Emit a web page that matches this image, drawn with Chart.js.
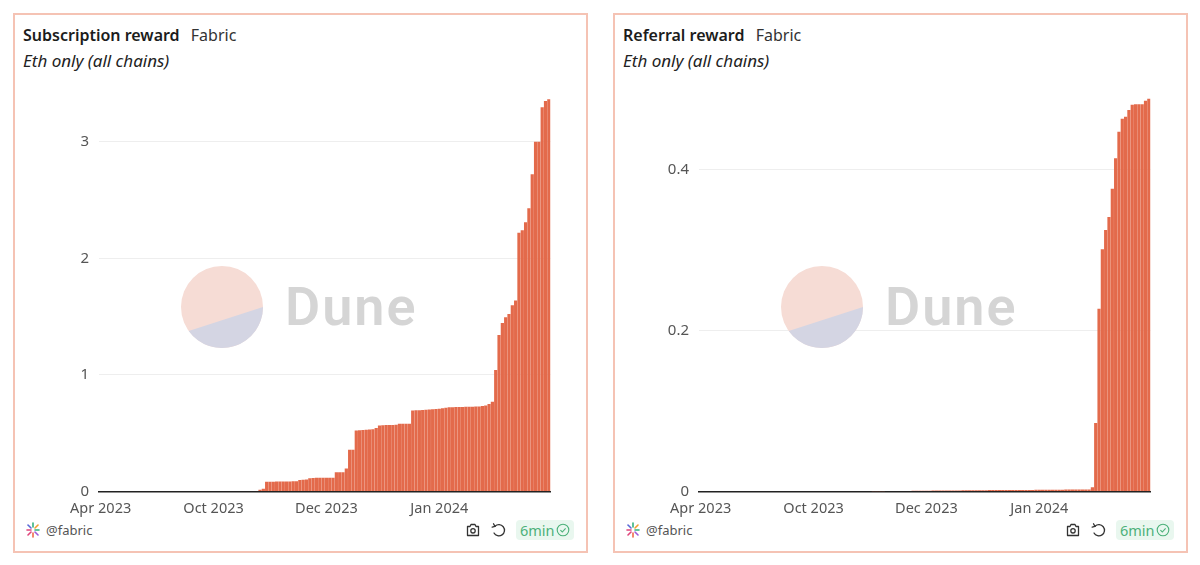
<!DOCTYPE html>
<html>
<head>
<meta charset="utf-8">
<title>Fabric rewards</title>
<script src="https://cdn.jsdelivr.net/npm/chart.js@4"></script>
<style>
  html, body { margin: 0; padding: 0; background: #fff; width: 1200px; height: 565px; overflow: hidden; }
  body { font-family: "Noto Sans", sans-serif; color: #1c1c1c; position: relative; }
  .card { position: absolute; top: 13px; width: 571px; height: 536px; border: 2px solid #f5c3b4; box-sizing: content-box; }
  #card1 { left: 13px; }
  #card2 { left: 613px; }
  .title { position: absolute; left: 8px; top: 9px; font-size: 16px; line-height: 22px; white-space: nowrap; }
  .title b { font-weight: 600; margin-right: 7px; }
  .title span { color: #333; }
  .subtitle { position: absolute; left: 8px; top: 35px; font-size: 17px; line-height: 22px; font-style: italic; color: #222; }
  .plot { position: absolute; left: -1px; top: 53px; width: 573px; height: 452px; }
  .mark { position: absolute; left: 165px; top: 250px; width: 84px; height: 84px; }
  .markText { position: absolute; left: 270px; top: 254px; font-size: 54px; line-height: 76px; font-weight: 600; color: #d5d5d5; font-family: Roboto, sans-serif; letter-spacing: 2px; }
  .owner { position: absolute; left: 31px; top: 505px; font-size: 13px; line-height: 20px; color: #555; }
  .logo { position: absolute; left: 11px; top: 507px; width: 14px; height: 16px; }
  .cam { position: absolute; left: 450px; top: 507px; width: 16px; height: 16px; }
  .undo { position: absolute; left: 475px; top: 507px; width: 18px; height: 16px; }
  .badge { position: absolute; left: 501px; top: 505px; width: 58px; height: 20px; background: #e9f7ef; border-radius: 4px; color: #4cb17a; font-size: 14.5px; line-height: 20px; }
  .badge span { position: absolute; left: 4px; top: 0; }
  .badge svg { position: absolute; left: 40px; top: 3px; width: 14px; height: 14px; }
</style>
</head>
<body>
<div class="card" id="card1"></div>
<div class="card" id="card2"></div>

<script>
// values, one per bar
var subscriptionReward = [
  0, 0, 0, 0, 0, 0, 0, 0, 0, 0, 0, 0, 0, 0, 0, 0, 0, 0, 0, 0,
  0, 0, 0, 0, 0, 0, 0, 0, 0, 0, 0, 0, 0, 0, 0, 0, 0, 0, 0, 0,
  0, 0, 0, 0, 0, 0, 0, 0,
  0.014, 0.023,
  0.083, 0.084, 0.084, 0.085, 0.085, 0.086, 0.086, 0.086, 0.087, 0.088,
  0.099, 0.1, 0.102,
  0.113, 0.116, 0.117, 0.117, 0.117, 0.117, 0.118, 0.118,
  0.166, 0.166, 0.166,
  0.197,
  0.357, 0.357,
  0.523, 0.525, 0.527, 0.529, 0.531, 0.534,
  0.545,
  0.566, 0.568, 0.57, 0.57, 0.571, 0.572,
  0.58, 0.58, 0.58, 0.581,
  0.694, 0.696, 0.697, 0.699, 0.701, 0.703, 0.705, 0.707, 0.71, 0.714, 0.719,
  0.722, 0.723, 0.724, 0.724, 0.725, 0.726, 0.727, 0.727, 0.728, 0.73, 0.734, 0.738, 0.751,
  0.769, 1.043, 1.343, 1.446, 1.494, 1.523, 1.597, 1.637,
  2.22, 2.24, 2.31, 2.43, 2.72, 3.0, 3.0, 3.295, 3.35, 3.365
];

var referralReward = [
  0, 0, 0, 0, 0, 0, 0, 0, 0, 0, 0, 0, 0, 0, 0, 0, 0, 0, 0, 0,
  0, 0, 0, 0, 0, 0, 0, 0, 0, 0, 0, 0, 0, 0, 0, 0, 0, 0, 0, 0,
  0, 0, 0, 0, 0, 0, 0, 0, 0, 0, 0, 0,
  0.0003, 0.0003, 0.0004, 0.0004, 0.0005, 0.0005, 0.0005, 0.0006, 0.0006, 0.0006,
  0.0007, 0.0007, 0.0008, 0.0009, 0.001, 0.001, 0.001, 0.001, 0.0011, 0.0011,
  0.0011, 0.0012, 0.0012, 0.0012, 0.0013, 0.0013, 0.0013, 0.0014, 0.0014, 0.0015,
  0.0016, 0.0016, 0.0017, 0.0017, 0.0017, 0.0018, 0.0018, 0.0018, 0.0019, 0.0019,
  0.0019, 0.0019, 0.002, 0.002, 0.002, 0.002, 0.002, 0.002, 0.002, 0.0021,
  0.0021, 0.0021, 0.0021, 0.0022, 0.0022, 0.0022, 0.0023, 0.0023, 0.0024, 0.0024,
  0.0024, 0.0025, 0.0025, 0.0025, 0.0025, 0.0025,
  0.0054, 0.085, 0.227, 0.301, 0.325, 0.341, 0.376, 0.414, 0.447, 0.463,
  0.4656, 0.474, 0.4805, 0.481, 0.481, 0.481, 0.4855, 0.488
];

var xTickLabels = ['Apr 2023', 'Oct 2023', 'Dec 2023', 'Jan 2024'];
var xTickEvery = 34;
var subscriptionTicks = [0, 1, 2, 3];
var referralTicks = [0, 0.2, 0.4];

function addCard(cardId, chartId, titleText, values, yMax, yTicks) {
  var card = document.getElementById(cardId);
  card.innerHTML =
    '<div class="title"><b>' + titleText + '</b> <span>Fabric</span></div>' +
    '<div class="subtitle">Eth only (all chains)</div>' +
    '<div class="plot"><canvas id="' + chartId + '" width="573" height="452"></canvas></div>' +
    '<svg class="mark" viewBox="-42 -42 84 84"><circle r="41" fill="#f6dcd5"/><path d="M41 0A41 41 0 0 1-33.3 23.9Z" fill="#d4d5e3"/></svg>' +
    '<div class="markText">Dune</div>' +
    '<svg class="logo" viewBox="0 0 14 16"><g stroke-width="1.6" stroke-linecap="round"><path d="M7 1V5" stroke="#35b37e"/><path d="M2 3L5 6" stroke="#5a6ad8"/><path d="M12 3L9 6" stroke="#f0a030"/><path d="M1 8H5" stroke="#e0457b"/><path d="M9 8H13" stroke="#35b37e"/><path d="M2 13L5 10" stroke="#e0457b"/><path d="M12 13L9 10" stroke="#a05ad8"/><path d="M7 11V15" stroke="#f06a4a"/></g></svg>' +
    '<div class="owner">@fabric</div>' +
    '<svg class="cam" viewBox="0 0 16 16" fill="none" stroke="#333" stroke-width="1.3"><path d="M2.5 4.5H5L6 2.5H10L11 4.5H13.5V13.5H2.5Z" stroke-linejoin="round"/><circle cx="8" cy="8.8" r="2.2"/></svg>' +
    '<svg class="undo" viewBox="0 0 18 16" fill="none" stroke="#333" stroke-width="1.3" stroke-linecap="round"><path d="M5 4.2A5.6 5.6 0 1 1 4 11"/><path d="M3.5 1.8L5 4.4L2.2 5.2"/></svg>' +
    '<div class="badge"><span>6min</span><svg viewBox="0 0 14 14" fill="none" stroke="#4cb17a" stroke-width="1.1"><circle cx="7" cy="7" r="5.8"/><path d="M4.4 7.1L6.3 9L9.6 5.3"/></svg></div>';

  var categories = values.map(function (v, i) { return i; });

  new Chart(document.getElementById(chartId).getContext('2d'), {
    type: 'bar',
    data: {
      labels: categories,
      datasets: [{
        data: values,
        backgroundColor: '#e36a4b',
        barPercentage: 0.97,
        categoryPercentage: 1
      }]
    },
    options: {
      responsive: false,
      animation: false,
      layout: { autoPadding: false, padding: { top: 0, right: 36.5, left: 0, bottom: 0 } },
      plugins: { legend: { display: false }, tooltip: { enabled: false } },
      scales: {
        x: {
          afterFit: function (axis) { axis.height = 28.5; },
          grid: { display: false, drawTicks: false },
          border: { display: true, color: '#222', width: 1.5 },
          ticks: {
            autoSkip: false,
            maxRotation: 0,
            minRotation: 0,
            padding: 8.5,
            color: '#555',
            font: { family: '"Noto Sans"', size: 14.5 },
            callback: function (value, index) {
              return index % xTickEvery === 0 ? xTickLabels[index / xTickEvery] : '';
            }
          }
        },
        y: {
          min: 0,
          max: yMax,
          afterFit: function (axis) { axis.width = 85; },
          afterBuildTicks: function (axis) {
            axis.ticks = yTicks.map(function (v) { return { value: v }; });
          },
          grid: { color: '#eeeeee', drawTicks: false },
          border: { display: false },
          ticks: {
            padding: 10,
            color: '#555',
            font: { family: '"Noto Sans"', size: 15 }
          }
        }
      }
    }
  });
}

addCard('card1', 'subscriptionChart', 'Subscription reward', subscriptionReward, 3.469, subscriptionTicks);
addCard('card2', 'referralChart', 'Referral reward', referralReward, 0.5025, referralTicks);
</script>
</body>
</html>
